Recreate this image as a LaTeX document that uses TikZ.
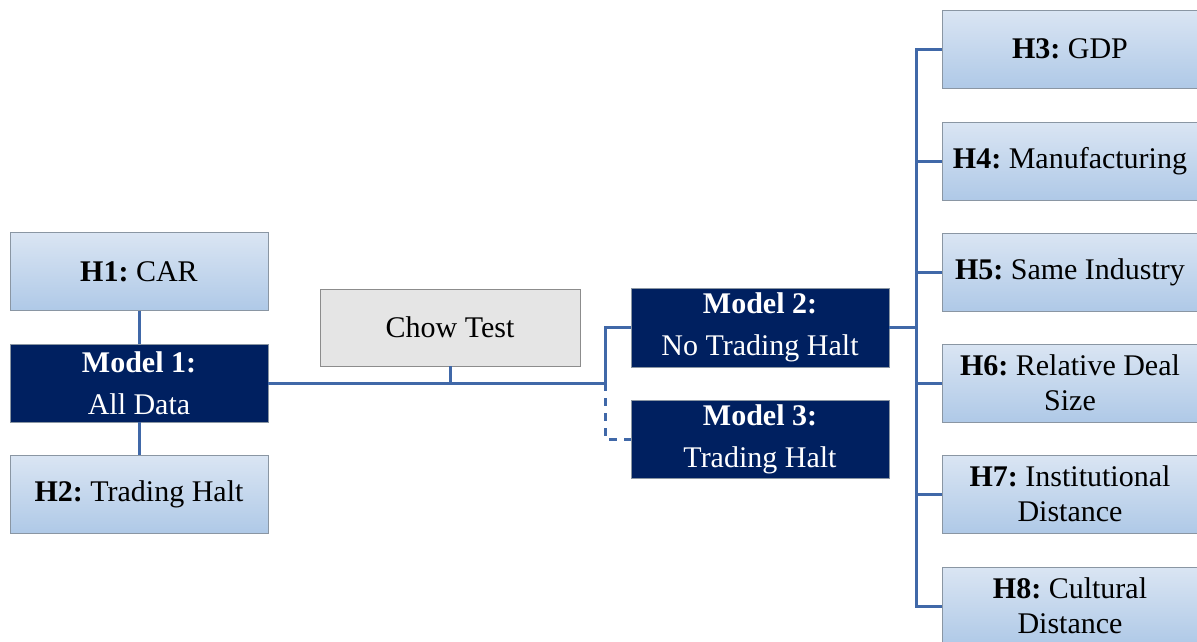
\documentclass[tikz,border=0pt]{standalone}
\usepackage{fontspec}
\setmainfont{Liberation Serif}
\frenchspacing
\definecolor{navy}{HTML}{002060}
\definecolor{conn}{HTML}{4068A8}
\definecolor{lbtop}{HTML}{DAE5F3}
\definecolor{lbbot}{HTML}{AFC9E7}
\definecolor{lbdraw}{HTML}{8A96A3}
\definecolor{chowfill}{HTML}{E5E5E5}
\definecolor{chowdraw}{HTML}{8C8C8C}
\begin{document}
\begin{tikzpicture}[x=1pt,y=-1pt,
  box/.style={rectangle, minimum width=258pt, minimum height=78pt, inner sep=0pt, outer sep=0pt, align=center, font=\fontsize{30}{35}\selectfont},
  hbox/.style={box, draw=lbdraw, line width=1pt, top color=lbtop, bottom color=lbbot, text=black},
  mbox/.style={box, draw=lbdraw, line width=0.8pt, fill=navy, text=white, font=\fontsize{30}{42}\selectfont},
  cbox/.style={box, draw=chowdraw, line width=1pt, fill=chowfill, text=black},
  wire/.style={draw=conn, line width=3pt},
  dwire/.style={wire, dash pattern=on 8pt off 7pt}
]
\useasboundingbox (0,0) rectangle (1197,641);
\clip (0,0) rectangle (1197,641);
% left column
\node[hbox] (h1) at (139,271.5) {\textbf{H1:} CAR};
\node[mbox] (m1) at (139,383) {\textbf{Model 1:}\\All Data};
\node[hbox] (h2) at (139,494) {\textbf{H2:} Trading Halt};
% chow
\node[cbox, minimum width=260pt, minimum height=77pt] (chow) at (450,327.5) {Chow Test};
% models 2,3
\node[mbox, minimum height=79pt] (m2) at (760,327.5) {\textbf{Model 2:}\\No Trading Halt};
\node[mbox] (m3) at (760,439) {\textbf{Model 3:}\\Trading Halt};
% right column
\node[hbox, minimum width=256pt] (h3) at (1070,49) {\textbf{H3:} GDP};
\node[hbox, minimum width=256pt] (h4) at (1070,161) {\textbf{H4:} Manufacturing};
\node[hbox, minimum width=256pt] (h5) at (1070,272) {\textbf{H5:} Same Industry};
\node[hbox, minimum width=256pt] (h6) at (1070,383) {\textbf{H6:} Relative Deal\\Size};
\node[hbox, minimum width=256pt] (h7) at (1070,494) {\textbf{H7:} Institutional\\Distance};
\node[hbox, minimum width=256pt] (h8) at (1070,606) {\textbf{H8:} Cultural\\Distance};
% connectors
\coordinate (j1) at (605,383);
\coordinate (bx) at (916,0);
\draw[wire] (h1.south) -- (m1.north);
\draw[wire] (m1.south) -- (h2.north);
\draw[wire] (m1.east) -- (j1);
\draw[wire] (chow.south) -- (chow.south |- j1);
\draw[wire] (j1) |- (m2.west);
\draw[dwire] (j1) |- (m3.west);
\draw[wire] (m2.east) -- (m2.east -| bx);
\draw[wire] (h3.west) -- (h3.west -| bx) -- (h8.west -| bx) -- (h8.west);
\foreach \h in {h4,h5,h6,h7}{\draw[wire] (\h.west) -- (\h.west -| bx);}
\end{tikzpicture}
\end{document}
